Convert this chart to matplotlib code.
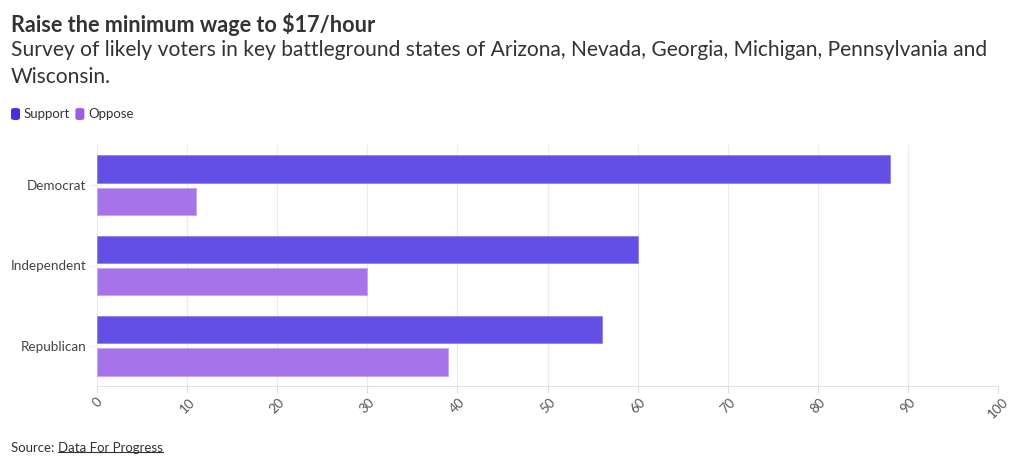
import matplotlib
matplotlib.use("Agg")
import matplotlib.pyplot as plt
from matplotlib.patches import FancyBboxPatch
from matplotlib.lines import Line2D
import numpy as np

categories = ["Democrat", "Independent", "Republican"]
support = [88, 60, 56]
oppose = [11, 30, 39]
series_names = ["Support", "Oppose"]
x_ticks = [0, 10, 20, 30, 40, 50, 60, 70, 80, 90, 100]

FONT = ["Lato", "DejaVu Sans"]
plt.rcParams["font.family"] = FONT

W, H = 1020, 467
fig = plt.figure(figsize=(W / 100, H / 100), dpi=100)
ax = fig.add_axes([97 / W, 1 - 386 / H, (998 - 97) / W, (386 - 145) / H])

y = np.arange(len(categories))
bh = 0.34
c_sup = "#634FE6"
c_opp = "#A673E8"
ax.barh(y - 0.2, support, height=bh, color=c_sup, edgecolor="#8f80ee", linewidth=0.6, zorder=3)
ax.barh(y + 0.2, oppose, height=bh, color=c_opp, edgecolor="#c4a3f0", linewidth=0.6, zorder=3)

ax.set_ylim(len(categories) - 0.5, -0.5)
ax.set_xlim(0, 100)
ax.set_yticks(y)
ax.set_yticklabels(categories, fontsize=9.7, color="#444444")
ax.set_xticks(x_ticks)
ax.set_xticklabels([str(t) for t in x_ticks], fontsize=9.5, color="#555555",
                   rotation=45, ha="center", va="top", rotation_mode="default")
ax.tick_params(axis="x", length=5, color="#dddddd", pad=2)
ax.tick_params(axis="y", length=6, color="#eeeeee", pad=1.5)
ax.grid(axis="x", color="#ebebeb", linewidth=0.8, zorder=0)
for s in ["top", "right", "left"]:
    ax.spines[s].set_visible(False)
ax.spines["bottom"].set_color("#e2e2e2")
ax.spines["bottom"].set_linewidth(0.8)

# Title / subtitle
fig.text(11 / W, 1 - 24 / H, "Raise the minimum wage to $17/hour", fontsize=15.6, fontweight="bold",
         color="#333333", va="center", ha="left")
fig.text(11 / W, 1 - 50 / H, "Survey of likely voters in key battleground states of Arizona, Nevada, Georgia, Michigan, Pennsylvania and",
         fontsize=15.1, color="#333333", va="center", ha="left")
fig.text(11 / W, 1 - 77 / H, "Wisconsin.", fontsize=15.1, color="#333333", va="center", ha="left")

# Legend
leg_cols = ["#4a2fe0", "#9a5be6"]
lx = 11
for name, col in zip(series_names, leg_cols):
    p = FancyBboxPatch((lx / W, 1 - 120 / H), 9 / W, 12 / H,
                       boxstyle="round,pad=0,rounding_size=0.004",
                       transform=fig.transFigure, facecolor=col, edgecolor="none")
    fig.patches.append(p)
    t = fig.text((lx + 13) / W, 1 - 114 / H, name, fontsize=9.5, color="#333333", va="center", ha="left")
    fig.canvas.draw()
    bb = t.get_window_extent()
    lx = bb.x1 + 5

# Source
t1 = fig.text(11 / W, 1 - 448 / H, "Source: ", fontsize=9.5, color="#333333", va="center", ha="left")
fig.canvas.draw()
bb = t1.get_window_extent()
t2 = fig.text(bb.x1 / W, 1 - 448 / H, "Data For Progress", fontsize=9.5, color="#333333", va="center", ha="left")
fig.canvas.draw()
bb2 = t2.get_window_extent()
fig.add_artist(Line2D([bb2.x0 / W, bb2.x1 / W], [(bb2.y0 + 2) / H, (bb2.y0 + 2) / H],
                      transform=fig.transFigure, color="#333333", linewidth=0.8))

fig.savefig("out.png", dpi=100, facecolor="white")
